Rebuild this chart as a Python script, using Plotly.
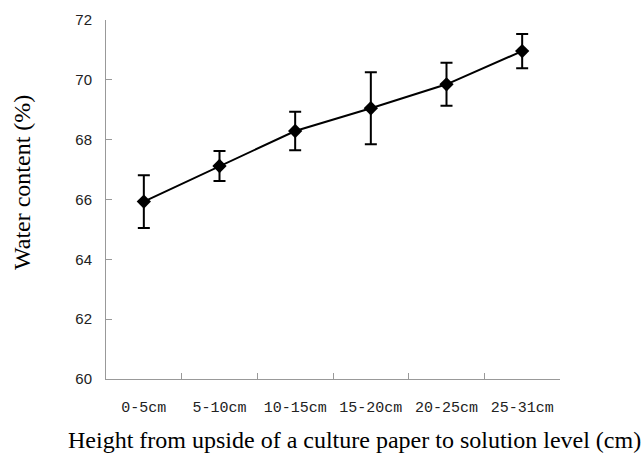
import plotly.graph_objects as go

categories = ["0-5cm", "5-10cm", "10-15cm", "15-20cm", "20-25cm", "25-31cm"]
water_content = [65.93, 67.12, 68.29, 69.05, 69.85, 70.96]
error = [0.88, 0.5, 0.64, 1.2, 0.72, 0.57]
y_ticks = [60, 62, 64, 66, 68, 70, 72]
x_title = "Height from upside of a culture paper to solution level (cm)"
y_title = "Water content (%)"

fig = go.Figure()
fig.add_trace(go.Scatter(
    x=categories, y=water_content,
    mode="lines+markers",
    line=dict(color="black", width=2),
    marker=dict(symbol="diamond", size=11, color="black"),
    error_y=dict(type="data", array=error, visible=True, color="black", thickness=2, width=6),
    showlegend=False,
))

fig.update_layout(
    width=641, height=457,
    margin=dict(l=106, r=81, t=20, b=78),
    plot_bgcolor="white", paper_bgcolor="white",
    xaxis=dict(
        type="category", range=[-0.5, 5.5], automargin=False, tickangle=0,
        showline=True, linecolor="#999999", linewidth=1,
        ticks="inside", tickson="boundaries", ticklen=6, tickcolor="#999999",
        showgrid=False, zeroline=False, ticklabelstandoff=14,
        tickfont=dict(family="Liberation Mono", size=15, color="#222222"),
    ),
    yaxis=dict(
        range=[60, 72], tickvals=y_ticks, automargin=False,
        showline=True, linecolor="#999999", linewidth=1,
        ticks="inside", ticklen=6, tickcolor="#999999",
        showgrid=False, zeroline=False, ticklabelstandoff=10,
        tickfont=dict(family="Liberation Sans", size=15, color="#222222"),
    ),
    annotations=[
        dict(text=x_title, xref="paper", yref="paper", x=(354 - 106) / 454, y=(457 - 78 - 440) / 359,
             xanchor="center", yanchor="middle", showarrow=False,
             font=dict(family="Liberation Serif", size=24, color="black")),
        dict(text=y_title, xref="paper", yref="paper", x=(22 - 106) / 454, y=(379 - 183) / 359,
             xanchor="center", yanchor="middle", showarrow=False, textangle=-90,
             font=dict(family="Liberation Serif", size=24, color="black")),
    ],
)

fig.write_html("out.html", config={"displayModeBar": False},
               post_script="document.body.style.margin='0';document.body.style.padding='0';")
